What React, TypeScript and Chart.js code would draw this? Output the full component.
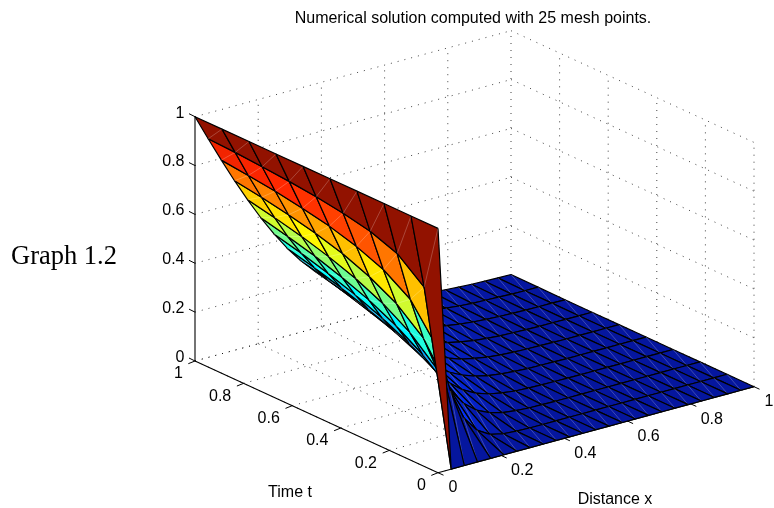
import React, { useEffect, useRef } from "react";
import { Chart, registerables } from "chart.js";

Chart.register(...registerables);

// Mesh
const xMesh = [0, 1/24, 2/24, 3/24, 4/24, 5/24, 6/24, 7/24, 8/24, 9/24, 10/24, 11/24, 12/24, 13/24, 14/24, 15/24, 16/24, 17/24, 18/24, 19/24, 20/24, 21/24, 22/24, 23/24, 1];
const tMesh = [0, 1/9, 2/9, 3/9, 4/9, 5/9, 6/9, 7/9, 8/9, 1];

// Surface height read for each time row
const uT0 = [1,0,0,0,0,0,0,0,0,0,0,0,0,0,0,0,0,0,0,0,0,0,0,0,0];
const uT1 = [1,.694,.432,.239,.116,.05,.018,.006,.002,0,0,0,0,0,0,0,0,0,0,0,0,0,0,0,0];
const uT2 = [1,.781,.579,.405,.267,.165,.096,.052,.027,.012,.006,.002,.001,0,0,0,0,0,0,0,0,0,0,0,0];
const uT3 = [1,.821,.65,.496,.364,.257,.174,.113,.07,.041,.023,.013,.006,.003,.002,.001,0,0,0,0,0,0,0,0,0];
const uT4 = [1,.844,.694,.555,.432,.326,.239,.169,.116,.077,.05,.031,.018,.011,.006,.003,.002,.001,0,0,0,0,0,0,0];
const uT5 = [1,.861,.726,.599,.482,.38,.292,.219,.16,.114,.08,.054,.035,.023,.014,.008,.005,.003,.002,.001,0,0,0,0,0];
const uT6 = [1,.873,.748,.631,.521,.422,.336,.262,.2,.149,.109,.078,.055,.037,.025,.016,.01,.006,.004,.002,.001,.001,0,0,0];
const uT7 = [1,.882,.767,.656,.553,.458,.373,.299,.235,.181,.138,.102,.075,.054,.038,.026,.018,.012,.008,.005,.003,.002,.001,.001,0];
const uT8 = [1,.89,.781,.677,.579,.487,.405,.331,.267,.212,.165,.127,.096,.071,.052,.038,.027,.018,.012,.008,.006,.004,.002,.001,.001];
const uT9 = [1,.895,.793,.694,.601,.513,.432,.359,.295,.239,.191,.15,.116,.089,.067,.05,.036,.026,.018,.013,.009,.006,.004,.003,.002];
const uRows = [uT0, uT1, uT2, uT3, uT4, uT5, uT6, uT7, uT8, uT9];

const xTicks = [0, 0.2, 0.4, 0.6, 0.8, 1];
const tTicks = [0, 0.2, 0.4, 0.6, 0.8, 1];
const zTicks = [0, 0.2, 0.4, 0.6, 0.8, 1];

const titleText = "Numerical solution computed with 25 mesh points.";
const xAxisTitle = "Distance x";
const tAxisTitle = "Time t";
const sideLabel = "Graph 1.2";

// Oblique view of the unit cube
const project = (x: number, t: number, z: number) => ({
  x: 438 + 316 * x - 243 * t,
  y: 472.7 - 86 * x - 111.7 * t - 244.3 * z,
});

const jetStops: [number, number, number, number][] = [
  [0, 5, 22, 158],
  [0.125, 4, 51, 255],
  [0.375, 0, 253, 255],
  [0.625, 255, 251, 0],
  [0.875, 255, 38, 0],
  [1, 146, 18, 0],
];
const jet = (v: number) => {
  const c = Math.max(0, Math.min(1, v));
  for (let k = 1; k < jetStops.length; k++) {
    const a = jetStops[k - 1], b = jetStops[k];
    if (c <= b[0]) {
      const f = (c - a[0]) / (b[0] - a[0]);
      const m = (n: number) => Math.round(a[n] + (b[n] - a[n]) * f);
      return `rgb(${m(1)},${m(2)},${m(3)})`;
    }
  }
  return "rgb(146,18,0)";
};

const line = (pts: { x: number; y: number }[], color: string, width: number, dash: number[], order: number, fillColor?: string) => ({
  data: pts,
  showLine: true,
  borderColor: color,
  borderWidth: width,
  borderDash: dash,
  pointRadius: 0,
  tension: 0,
  order,
  polygonFill: fillColor,
  borderJoinStyle: "round" as const,
  borderCapStyle: "butt" as const,
});

function buildDatasets() {
  const ds: any[] = [];
  const dash = [1, 6];
  const grid = "rgba(0,0,0,0.75)";

  // Surface: nearest cells get the lowest order, so they paint last
  for (let i = 0; i < xMesh.length - 1; i++) {
    for (let j = 0; j < tMesh.length - 1; j++) {
      const a = project(xMesh[i], tMesh[j], uRows[j][i]);
      const b = project(xMesh[i + 1], tMesh[j], uRows[j][i + 1]);
      const c = project(xMesh[i + 1], tMesh[j + 1], uRows[j + 1][i + 1]);
      const d = project(xMesh[i], tMesh[j + 1], uRows[j + 1][i]);
      ds.push(line([a, b, c, d, a], "#000", 1.2, [], (i + j) * 1000 + 1 + j / 100, jet(uRows[j][i])));
      ds.push(line([c, a], "rgba(255,255,255,0.38)", 0.6, [], (i + j) * 1000 + j / 100));
    }
  }
  const order = 1e6;
  // Floor and wall grids
  for (const v of xTicks) {
    ds.push(line([project(v, 0, 0), project(v, 1, 0)], grid, 1, dash, order));
    if (v > 0) ds.push(line([project(v, 1, 0), project(v, 1, 1)], grid, 1, dash, order));
  }
  for (const v of tTicks) {
    ds.push(line([project(0, v, 0), project(1, v, 0)], grid, 1, dash, order));
    if (v > 0 && v < 1) ds.push(line([project(1, v, 0), project(1, v, 1)], grid, 1, dash, order));
  }
  ds.push(line([project(1, 0, 0), project(1, 0, 1)], grid, 1, dash, order));
  for (const v of zTicks) {
    ds.push(line([project(0, 1, v), project(1, 1, v)], grid, 1, dash, order));
    ds.push(line([project(1, 1, v), project(1, 0, v)], grid, 1, dash, order));
  }
  // Axes
  const axis = 1e5;
  ds.push(line([project(0, 0, 0), project(1, 0, 0)], "#000", 1.1, [], axis));
  ds.push(line([project(0, 0, 0), project(0, 1, 0)], "#000", 1.1, [], axis));
  ds.push(line([project(0, 1, 0), project(0, 1, 1)], "#000", 1.1, [], axis));
  return ds;
}

const surfacePlugin = {
  id: "surfaceFaces",
  beforeDatasetDraw(chart: any, args: any) {
    const set = chart.data.datasets[args.index];
    if (!set.polygonFill) return;
    const pts = args.meta.data;
    const ctx = chart.ctx;
    ctx.save();
    ctx.beginPath();
    pts.forEach((p: any, n: number) => (n ? ctx.lineTo(p.x, p.y) : ctx.moveTo(p.x, p.y)));
    ctx.closePath();
    ctx.fillStyle = set.polygonFill;
    ctx.fill();
    ctx.restore();
  },
  afterDraw(chart: any) {
    const ctx = chart.ctx;
    const sx = chart.scales.x, sy = chart.scales.y;
    const px = (p: { x: number; y: number }) => ({ x: sx.getPixelForValue(p.x), y: sy.getPixelForValue(p.y) });
    const tick = (a: { x: number; y: number }, dx: number, dy: number) => {
      const p = px(a);
      ctx.beginPath();
      ctx.moveTo(p.x, p.y);
      ctx.lineTo(p.x + dx, p.y + dy);
      ctx.strokeStyle = "#000";
      ctx.lineWidth = 1;
      ctx.stroke();
    };
    const text = (s: string, x: number, y: number, font: string, align: CanvasTextAlign = "center") => {
      ctx.font = font;
      ctx.fillStyle = "#000";
      ctx.textAlign = align;
      ctx.textBaseline = "middle";
      ctx.fillText(s, x, y + 1.5);
    };
    ctx.save();
    const tickFont = '16px "Liberation Sans", Arial, sans-serif';
    xTicks.forEach((v) => {
      const a = project(v, 0, 0);
      tick(a, 5.5, 2.5);
      const p = px(a);
      const end = v === 0 || v === 1;
      text(String(v), p.x + (end ? 15 : 21), p.y + (end ? 13.5 : 14), tickFont);
    });
    tTicks.forEach((v) => {
      const a = project(0, v, 0);
      tick(a, -6.7, 2.7);
      const p = px(a);
      text(String(v), p.x + (v === 0 || v === 1 ? -16.5 : -23.5), p.y + 11.5, tickFont);
    });
    zTicks.forEach((v) => {
      const a = project(0, 1, v);
      tick(a, -6, -3);
      const p = px(a);
      text(String(v), p.x - 10.5, p.y - 5, tickFont, "right");
    });
    text(titleText, 473, 17, '16px "Liberation Sans", Arial, sans-serif');
    text(tAxisTitle, 290, 491, tickFont);
    text(xAxisTitle, 615, 498, tickFont);
    text(sideLabel, 11, 256, '26.5px "Liberation Serif", "Times New Roman", serif', "left");
    ctx.restore();
  },
};

export default function App() {
  const ref = useRef<HTMLCanvasElement>(null);
  useEffect(() => {
    document.body.style.margin = "0";
    const chart = new Chart(ref.current as HTMLCanvasElement, {
      type: "scatter",
      data: { datasets: buildDatasets() },
      options: {
        animation: false,
        responsive: false,
        layout: { padding: 0 },
        plugins: { legend: { display: false }, tooltip: { enabled: false }, title: { display: false } },
        scales: {
          x: { type: "linear", min: 0, max: 774, display: false },
          y: { type: "linear", min: 0, max: 508, reverse: true, display: false },
        },
      },
      plugins: [surfacePlugin],
    } as any);
    return () => chart.destroy();
  }, []);
  return <canvas ref={ref} width={774} height={508} style={{ display: "block", width: 774, height: 508 }} />;
}
